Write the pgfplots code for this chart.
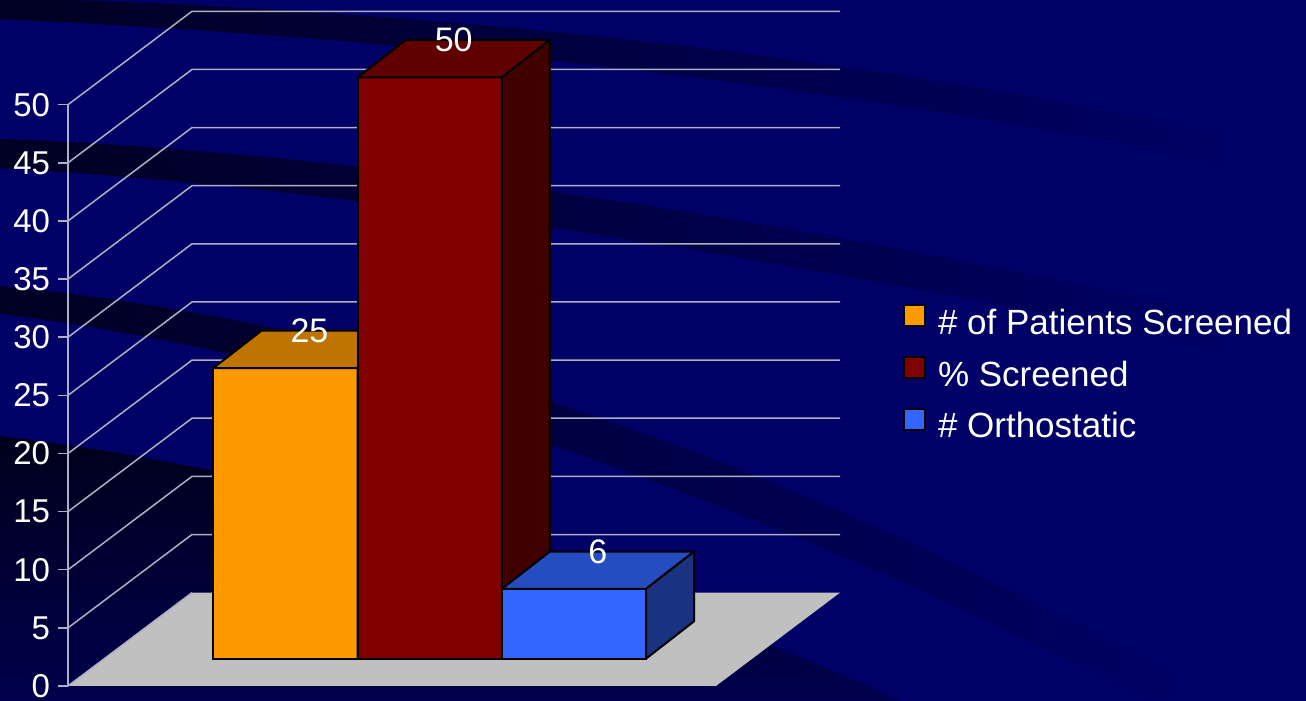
\documentclass[border=0pt]{standalone}
\usepackage{fontspec}
\setmainfont{Liberation Sans}
\usepackage{pgfplots}
\pgfplotsset{compat=1.18}
\definecolor{bgnavy}{RGB}{0,0,102}
\definecolor{banddark}{RGB}{0,0,34}
\definecolor{gridc}{RGB}{175,175,195}
\definecolor{floorc}{RGB}{192,192,192}
\definecolor{orF}{RGB}{255,153,0}
\definecolor{orT}{RGB}{191,115,0}
\definecolor{orS}{RGB}{128,77,0}
\definecolor{reF}{RGB}{128,0,0}
\definecolor{reT}{RGB}{96,0,0}
\definecolor{reS}{RGB}{64,0,0}
\definecolor{blF}{RGB}{51,102,255}
\definecolor{blT}{RGB}{38,77,191}
\definecolor{blS}{RGB}{26,51,128}
\begin{document}
\begin{tikzpicture}
\fill[bgnavy] (0,0) rectangle (653pt,350.5pt);
\path[use as bounding box] (0,0) rectangle (653pt,350.5pt);
% decorative background bands (pixel coordinates, y downwards)
\begin{scope}[x=0.5pt,y=-0.5pt,yshift=350.5pt]
\shade[left color=banddark, middle color=bgnavy!82!banddark, right color=bgnavy]
  (0,-2) .. controls (400,8) and (840,50) .. (1250,140) -- (1250,170)
  .. controls (840,82) and (400,38) .. (0,19) -- cycle;
\shade[left color=banddark, middle color=bgnavy!82!banddark, right color=bgnavy]
  (0,139) .. controls (300,150) and (700,200) .. (1250,320) -- (1250,355)
  .. controls (700,240) and (300,185) .. (0,168) -- cycle;
\shade[left color=banddark, middle color=bgnavy!82!banddark, right color=bgnavy]
  (0,286) .. controls (300,315) and (700,410) .. (1200,690) -- (1150,701)
  .. controls (700,470) and (300,350) .. (0,314) -- cycle;
\shade[top color=banddark!80!black, bottom color=bgnavy!75!black]
  (0,436) .. controls (200,460) and (500,520) .. (900,701) -- (0,701) -- cycle;
\end{scope}
\begin{axis}[
  at={(34pt,7.5pt)}, anchor=south west, scale only axis,
  width=386pt, height=290.65pt,
  xmin=68, xmax=840, ymin=0, ymax=50,
  clip=false,
  axis x line=none, axis y line*=left,
  axis line style={draw=gridc, line width=0.75pt},
  xtick=\empty, ytick={0,5,...,50},
  tick align=outside, major tick length=5pt,
  ytick style={draw=gridc, line width=0.75pt},
  yticklabel style={text=white, font=\fontsize{16.5}{19}\selectfont, inner sep=0pt, xshift=-3.75pt},
  /pgf/number format/assume math mode=true,
  legend style={at={(axis description cs:1.0816,0.5355)}, anchor=west,
    draw=none, fill=none, text=white, inner sep=0pt, outer sep=0pt,
    font=\fontsize{17.5}{20}\selectfont, row sep=7pt, column sep=6pt,
    nodes={inner sep=0pt, text height=12.5pt, text depth=3.7pt}},
  legend cell align=left,
]
% floor
\addplot[fill=floorc, draw=none, forget plot] coordinates {(68,0) (716,0) (840,8.03) (192,8.03)} -- cycle;
% back wall grid lines
\addplot[gridc, line width=0.75pt, forget plot] coordinates {(68,0) (192,8.03)};
\addplot[gridc, line width=0.75pt, forget plot] coordinates {(68,5) (192,13.03) (840,13.03)};
\addplot[gridc, line width=0.75pt, forget plot] coordinates {(68,10) (192,18.03) (840,18.03)};
\addplot[gridc, line width=0.75pt, forget plot] coordinates {(68,15) (192,23.03) (840,23.03)};
\addplot[gridc, line width=0.75pt, forget plot] coordinates {(68,20) (192,28.03) (840,28.03)};
\addplot[gridc, line width=0.75pt, forget plot] coordinates {(68,25) (192,33.03) (840,33.03)};
\addplot[gridc, line width=0.75pt, forget plot] coordinates {(68,30) (192,38.03) (840,38.03)};
\addplot[gridc, line width=0.75pt, forget plot] coordinates {(68,35) (192,43.03) (840,43.03)};
\addplot[gridc, line width=0.75pt, forget plot] coordinates {(68,40) (192,48.03) (840,48.03)};
\addplot[gridc, line width=0.75pt, forget plot] coordinates {(68,45) (192,53.03) (840,53.03)};
\addplot[gridc, line width=0.75pt, forget plot] coordinates {(68,50) (192,58.03) (840,58.03)};
% bar 1: # of Patients Screened = 25
\addplot[ybar, bar width=144.2, bar shift=0pt, yshift=13.66pt, fill=orF, draw=black, line width=1pt, forget plot] coordinates {(285.5,25)};
\addplot[fill=orT, draw=black, line width=1pt, line join=round, yshift=13.66pt, forget plot] coordinates {(213.4,25) (357.6,25) (405.6,28.21) (261.4,28.21)} -- cycle;
\addplot[fill=orS, draw=black, line width=1pt, line join=round, yshift=13.66pt, forget plot] coordinates {(357.6,0) (405.6,3.21) (405.6,28.21) (357.6,25)} -- cycle;
% bar 2: % Screened = 50
\addplot[ybar, bar width=144.2, bar shift=0pt, yshift=13.66pt, fill=reF, draw=black, line width=1pt, forget plot] coordinates {(429.7,50)};
\addplot[fill=reT, draw=black, line width=1pt, line join=round, yshift=13.66pt, forget plot] coordinates {(357.6,50) (501.8,50) (549.8,53.21) (405.6,53.21)} -- cycle;
\addplot[fill=reS, draw=black, line width=1pt, line join=round, yshift=13.66pt, forget plot] coordinates {(501.8,0) (549.8,3.21) (549.8,53.21) (501.8,50)} -- cycle;
% bar 3: # Orthostatic = 6
\addplot[ybar, bar width=144.2, bar shift=0pt, yshift=13.66pt, fill=blF, draw=black, line width=1pt, forget plot] coordinates {(573.9,6)};
\addplot[fill=blT, draw=black, line width=1pt, line join=round, yshift=13.66pt, forget plot] coordinates {(501.8,6) (646,6) (694,9.21) (549.8,9.21)} -- cycle;
\addplot[fill=blS, draw=black, line width=1pt, line join=round, yshift=13.66pt, forget plot] coordinates {(646,0) (694,3.21) (694,9.21) (646,6)} -- cycle;
% value labels
\node[text=white, font=\fontsize{17}{20}\selectfont, inner sep=0pt] at (axis cs:309.5,30.56) {25};
\node[text=white, font=\fontsize{17}{20}\selectfont, inner sep=0pt] at (axis cs:453.7,55.56) {50};
\node[text=white, font=\fontsize{17}{20}\selectfont, inner sep=0pt] at (axis cs:597.9,11.56) {6};
% legend
\addlegendimage{legend image code/.code={\draw[fill=orF, draw=black, line width=1pt] (0.5pt,-0.25pt) rectangle (11pt,10.25pt);}}
\addlegendentry{\# of Patients Screened}
\addlegendimage{legend image code/.code={\draw[fill=reF, draw=black, line width=1pt] (0.5pt,-0.25pt) rectangle (11pt,10.25pt);}}
\addlegendentry{\% Screened}
\addlegendimage{legend image code/.code={\draw[fill=blF, draw=black, line width=1pt] (0.5pt,-0.25pt) rectangle (11pt,10.25pt);}}
\addlegendentry{\# Orthostatic}
\end{axis}
\end{tikzpicture}
\end{document}
